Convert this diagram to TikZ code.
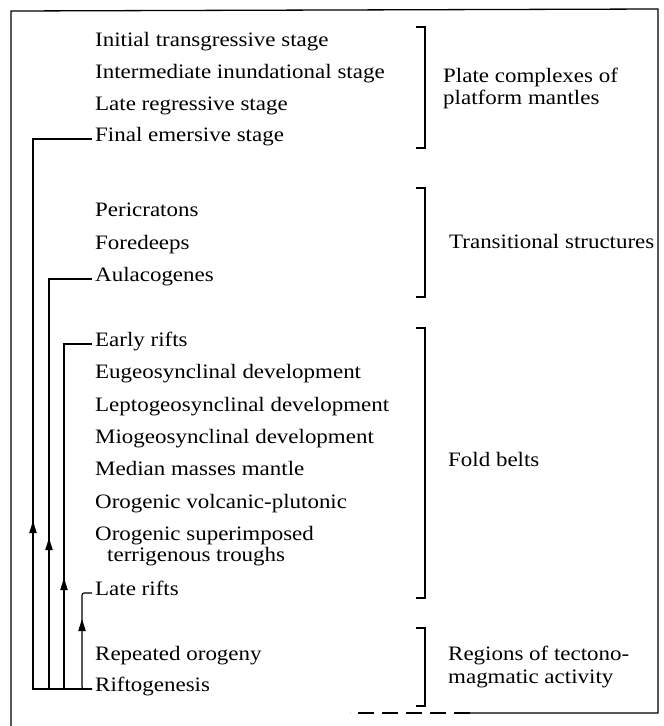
\documentclass[tikz,border=0pt]{standalone}
\usepackage{fontspec}
\setmainfont{Liberation Serif}[FakeStretch=1.12]
\tikzset{
  item/.style={anchor=west,inner xsep=3pt,inner ysep=0pt,text height=0.46em,text depth=0em,font=\fontsize{20.5}{23}\selectfont},
  grp/.style={anchor=west,inner sep=0pt,text height=0.46em,text depth=0em,font=\fontsize{20.5}{23}\selectfont},
  conn/.style={line width=1.1pt},
  brk/.style={line width=1.1pt},
  boxline/.style={line width=1.3pt},
  headfill/.style={fill=black}
}
\begin{document}
\begin{tikzpicture}[x=1pt,y=-1pt]
\useasboundingbox (0,0) rectangle (664,726);
% frame
\draw[boxline] (11,726) -- (11,11) -- (658,9) -- (658,713) -- (470,713);
\draw[boxline,dash pattern=on 16pt off 8pt] (470,713) -- (350,713);
% left items
\node[item] (init)   at (92,44)  {Initial transgressive stage};
\node[item] (inter)  at (92,76)  {Intermediate inundational stage};
\node[item] (lreg)   at (92,108) {Late regressive stage};
\node[item] (final)  at (92,139) {Final emersive stage};
\node[item] (peri)   at (92,214) {Pericratons};
\node[item] (fore)   at (92,247) {Foredeeps};
\node[item] (aula)   at (92,279) {Aulacogenes};
\node[item] (early)  at (92,344) {Early rifts};
\node[item] (eugeo)  at (92,376) {Eugeosynclinal development};
\node[item] (lepto)  at (92,409) {Leptogeosynclinal development};
\node[item] (mio)    at (92,441) {Miogeosynclinal development};
\node[item] (median) at (92,473) {Median masses mantle};
\node[item] (orovp)  at (92,506) {Orogenic volcanic-plutonic};
\node[item] (oros)   at (92,538) {Orogenic superimposed};
\node[item] (orost)  at (104,559) {terrigenous troughs};
\node[item] (lrift)  at (92,593) {Late rifts};
\node[item] (rep)    at (92,658) {Repeated orogeny};
\node[item] (rift)   at (92,689) {Riftogenesis};
% right group labels
\node[grp] (plate1) at (443,80)  {Plate complexes of};
\node[grp] (plate2) at (443,102) {platform mantles};
\node[grp] (trans)  at (449,246) {Transitional structures};
\node[grp] (fold)   at (448,464) {Fold belts};
\node[grp] (reg1)   at (448,658) {Regions of tectono-};
\node[grp] (reg2)   at (448,681) {magmatic activity};
% brackets
\draw[brk] (416,27)  -- (425,27)  -- (425,148) -- (416,148);
\draw[brk] (416,188) -- (425,188) -- (425,297) -- (416,297);
\draw[brk] (416,328) -- (425,328) -- (425,598) -- (416,598);
\draw[brk] (416,628) -- (425,628) -- (425,706) -- (416,706);
% connector columns
\coordinate (cA) at (33,0);
\coordinate (cB) at (49,0);
\coordinate (cC) at (64,0);
\coordinate (cD) at (82,0);
\draw[conn] (rift.west) -- (rift.west -| cA) -- (final.west -| cA) -- (final.west);
\draw[conn] (rift.west) -- (rift.west -| cB) -- (aula.west -| cB) -- (aula.west);
\draw[conn] (rift.west) -- (rift.west -| cC) -- (early.west -| cC) -- (early.west);
\draw[conn,rounded corners=2pt] (rift.west) -- (rift.west -| cD) -- (lrift.west -| cD) -- (lrift.west);
% arrowheads on the rising lines
\fill[headfill] (rift.west -| cA) ++(0,-168) -- ++(-3.8,12) -- ++(7.6,0) -- cycle;
\fill[headfill] (rift.west -| cB) ++(0,-151) -- ++(-3.8,12) -- ++(7.6,0) -- cycle;
\fill[headfill] (rift.west -| cC) ++(0,-111) -- ++(-3.8,12) -- ++(7.6,0) -- cycle;
\fill[headfill] (rift.west -| cD) ++(0,-70) -- ++(-3.8,12) -- ++(7.6,0) -- cycle;
\end{tikzpicture}
\end{document}
